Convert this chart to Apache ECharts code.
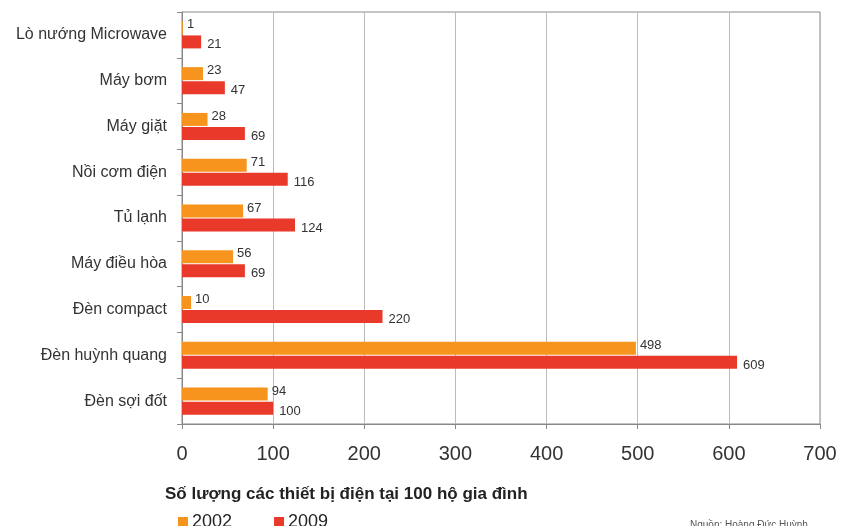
<!DOCTYPE html>
<html><head><meta charset="utf-8">
<script src="https://cdn.jsdelivr.net/npm/echarts@6/dist/echarts.min.js"></script>
<style>html,body{margin:0;padding:0;background:#fff}#c{width:849px;height:526px}</style>
</head><body><div id="c"></div>
<script>
const categories = ["Lò nướng Microwave","Máy bơm","Máy giặt","Nồi cơm điện","Tủ lạnh","Máy điều hòa","Đèn compact","Đèn huỳnh quang","Đèn sợi đốt"];
const values2002 = [1,23,28,71,67,56,10,498,94];
const values2009 = [21,47,69,116,124,69,220,609,100];
const seriesNames = ["2002","2009"];
const xTicks = [0,100,200,300,400,500,600,700];

const chart = echarts.init(document.getElementById('c'));
const font = 'Liberation Sans, Arial, sans-serif';
chart.setOption({
  animation:false,
  textStyle:{fontFamily:font},
  grid:{left:182,right:29,top:12,bottom:102,show:true,borderColor:'#888',borderWidth:1},
  xAxis:{type:'value',min:xTicks[0],max:xTicks[xTicks.length-1],interval:100,
    axisLine:{show:true,lineStyle:{color:'#888'}},
    axisTick:{show:true,length:5,lineStyle:{color:'#888'}},
    splitLine:{show:true,lineStyle:{color:'#bbb'}},
    axisLabel:{fontSize:20,color:'#333',margin:20,fontFamily:font}},
  yAxis:{type:'category',data:categories,inverse:true,
    axisLine:{show:true,lineStyle:{color:'#888'}},
    axisTick:{show:true,length:5,lineStyle:{color:'#888'}},
    axisLabel:{fontSize:16,color:'#333',margin:15,fontFamily:font}},
  legend:{show:true,left:173,top:508,icon:'rect',itemWidth:10,itemHeight:10,itemGap:42,
    textStyle:{fontSize:18,color:'#222',fontFamily:font,padding:[0,0,0,-1]},
    data:seriesNames},
  graphic:[
    {type:'text',left:165,top:486,style:{text:'Số lượng các thiết bị điện tại 100 hộ gia đình',font:'bold 17px '+font,fill:'#222'}},
    {type:'text',left:690,top:520,style:{text:'Nguồn: Hoàng Đức Huỳnh',font:'10px '+font,fill:'#555'}}
  ],
  series:[
    {name:seriesNames[0],type:'bar',data:values2002,barWidth:13,barGap:'8%',
      itemStyle:{color:'#F7941D'},
      label:{show:true,position:'right',distance:4,fontSize:13,color:'#333',offset:[0,-3]}},
    {name:seriesNames[1],type:'bar',data:values2009,barWidth:13,
      itemStyle:{color:'#E8392A'},
      label:{show:true,position:'right',distance:6,fontSize:13,color:'#333',offset:[0,3]}}
  ]
});
</script></body></html>
